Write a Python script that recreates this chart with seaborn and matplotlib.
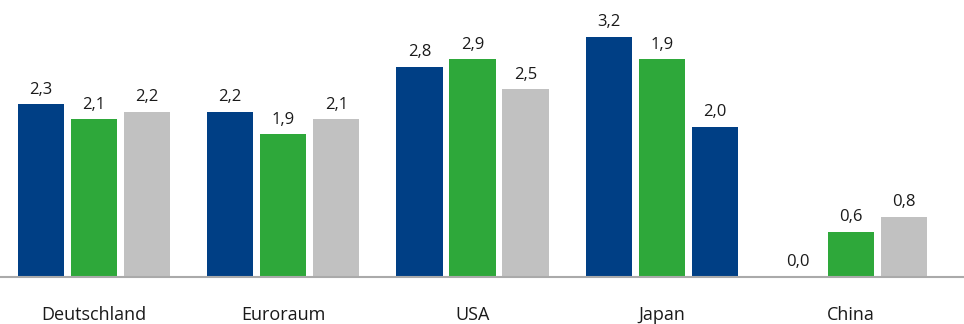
import matplotlib
matplotlib.use("Agg")
import matplotlib.pyplot as plt
import seaborn as sns
import pandas as pd

categories = ["Deutschland", "Euroraum", "USA", "Japan", "China"]
series = ["A", "B", "C"]
values_a = [2.3, 2.2, 2.8, 3.2, 0.0]
values_b = [2.1, 1.9, 2.9, 2.9, 0.6]
values_c = [2.2, 2.1, 2.5, 2.0, 0.8]
labels_a = ["2,3", "2,2", "2,8", "3,2", "0,0"]
labels_b = ["2,1", "1,9", "2,9", "1,9", "0,6"]
labels_c = ["2,2", "2,1", "2,5", "2,0", "0,8"]

BLUE = "#003F85"
GREEN = "#2EA83A"
GRAY = "#C1C1C1"

rows = []
for s, vals in zip(series, [values_a, values_b, values_c]):
    for c, v in zip(categories, vals):
        rows.append({"cat": c, "series": s, "value": v})
df = pd.DataFrame(rows)

sns.set_theme(style="white")
plt.rcParams["font.family"] = ["Open Sans", "DejaVu Sans"]

fig = plt.figure(figsize=(9.64, 3.24), dpi=100)
ax = fig.add_axes([0, 0.145, 1, 0.855])
sns.barplot(data=df, x="cat", y="value", hue="series", order=categories,
            hue_order=series, palette=[BLUE, GREEN, GRAY],
            width=0.84, gap=0.13, ax=ax, legend=False, saturation=1)

all_labels = [labels_a, labels_b, labels_c]
for si, cont in enumerate(ax.containers):
    for ci, bar in enumerate(cont):
        if si == 2 and categories[ci] == "Japan":
            bar.set_facecolor(BLUE)
        bar.set_edgecolor("none")
        ax.annotate(all_labels[si][ci],
                    (bar.get_x() + bar.get_width() / 2, bar.get_height()),
                    xytext=(0, 5), textcoords="offset points",
                    ha="center", va="bottom", fontsize=12, color="#1a1a1a")

ax.set_xlim(-0.496, 4.596)
ax.set_ylim(0, 3.693)
for sp in ["top", "right", "left"]:
    ax.spines[sp].set_visible(False)
ax.spines["bottom"].set_color("#AAAAAA")
ax.spines["bottom"].set_linewidth(1.5)
ax.set_yticks([])
ax.set_xlabel("")
ax.set_ylabel("")
ax.tick_params(axis="x", length=0, pad=21, labelsize=13, labelcolor="#1a1a1a")

fig.savefig("out.png", dpi=100)
